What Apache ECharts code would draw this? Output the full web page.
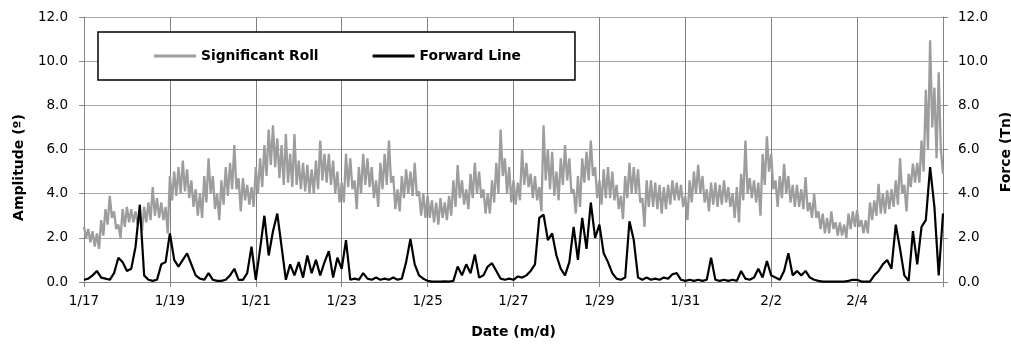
<!DOCTYPE html>
<html>
<head>
<meta charset="utf-8">
<script src="https://cdn.jsdelivr.net/npm/echarts@6/dist/echarts.min.js"></script>
<style>
html,body{margin:0;padding:0;background:#fff;}
#chart{width:1011px;height:344px;}
</style>
</head>
<body>
<div id="chart"></div>
<script>
// Sampling steps (days since 1/17 00:00)
const rollStepDays = 0.05;
const forwardStepDays = 0.1;
const xTickLabels = ['1/17','1/19','1/21','1/23','1/25','1/27','1/29','1/31','2/2','2/4'];
const seriesNames = ['Significant Roll', 'Forward Line'];

// Significant Roll amplitude (deg): alternating upper / lower edge of the noisy band
const rollValues = [
  2.5,2.0, 2.4,1.8, 2.3,1.6, 2.2,1.5, 2.8,2.1, 3.3,2.6, 3.9,2.9, 3.2,2.4, 2.6,2.0, 3.3,2.5,
  3.4,2.7, 3.3,2.7, 3.2,2.6, 3.0,2.3, 3.4,2.7, 3.6,2.8, 4.3,3.0, 3.8,2.9, 3.6,2.8, 3.4,2.2,
  4.8,3.7, 5.0,3.9, 5.2,4.0, 5.5,4.1, 5.1,3.8, 4.6,3.4, 4.2,3.0, 4.0,2.9, 4.8,3.6, 5.6,4.0,
  4.8,3.3, 4.0,2.8, 4.6,3.5, 5.2,3.9, 5.4,4.2, 6.2,4.2, 4.7,3.2, 4.7,3.7, 4.4,3.5, 4.3,3.4,
  5.2,4.0, 5.6,4.3, 6.2,4.8, 6.9,5.3, 7.1,5.2, 6.5,4.7, 6.2,4.4, 6.7,4.5, 5.8,4.3, 6.7,4.4,
  5.5,4.2, 5.4,4.1, 5.3,4.0, 5.1,4.0, 5.5,4.2, 6.4,4.6, 5.8,4.5, 5.8,4.4, 5.5,4.0, 5.0,3.6,
  4.5,3.6, 5.8,4.3, 5.6,4.2, 4.6,3.3, 5.2,4.0, 5.8,4.4, 5.6,4.3, 5.2,3.8, 4.6,3.4, 5.4,4.2,
  5.8,4.4, 6.4,4.5, 4.8,3.3, 4.2,3.2, 4.8,3.8, 5.1,4.0, 5.0,3.9, 5.4,3.9, 4.1,3.0, 4.0,2.9,
  3.9,2.9, 3.7,2.7, 3.6,2.6, 3.8,2.9, 3.6,2.8, 3.9,3.0, 4.6,3.4, 5.3,3.8, 4.6,3.5, 4.2,3.3,
  4.9,3.8, 5.4,4.0, 5.0,3.8, 4.2,3.1, 4.0,3.1, 4.6,3.6, 5.4,4.0, 6.9,4.8, 5.6,4.0, 5.2,3.6,
  4.6,3.5, 4.5,3.7, 6.0,4.4, 5.4,4.3, 4.9,3.8, 4.8,3.7, 4.3,3.2, 7.1,4.6, 6.0,4.2, 5.9,3.9,
  5.0,3.7, 5.6,4.4, 6.2,4.6, 5.6,4.0, 4.2,3.1, 4.8,3.4, 5.6,4.5, 5.9,4.6, 6.4,4.8, 5.2,3.8,
  4.6,3.5, 5.1,3.8, 5.2,3.8, 5.0,3.7, 4.4,3.3, 3.9,2.85, 4.8,3.8, 5.4,4.0, 5.2,4.0, 5.1,3.6,
  3.8,2.5, 4.6,3.4, 4.6,3.4, 4.5,3.3, 4.4,3.1, 4.3,3.3, 4.4,3.5, 4.6,3.7, 4.5,3.7, 4.4,3.4,
  3.9,2.8, 4.6,3.6, 5.0,4.0, 5.3,4.0, 4.8,3.6, 4.2,3.2, 4.5,3.5, 4.5,3.4, 4.4,3.5, 4.6,3.6,
  4.3,3.4, 4.0,2.9, 4.3,2.7, 4.9,3.7, 6.4,4.0, 4.7,3.8, 4.6,3.6, 4.5,3.0, 5.8,4.4, 6.6,5.0,
  5.8,4.2, 4.6,3.4, 4.8,3.8, 5.35,4.0, 4.8,3.6, 4.4,3.4, 4.4,3.4, 4.2,3.3, 4.75,3.2, 3.6,2.9,
  4.0,2.9, 3.2,2.4, 3.1,2.2, 2.9,2.2, 3.2,2.4, 2.7,2.1, 2.7,2.1, 2.6,2.0, 3.1,2.4, 3.2,2.5,
  3.25,2.5, 2.8,2.2, 2.8,2.2, 3.6,2.8, 3.7,3.0, 4.45,3.1, 4.0,3.1, 4.15,3.3, 4.2,3.4, 4.6,3.5,
  5.6,4.0, 4.4,3.2, 4.9,4.3, 5.36,4.5, 5.4,4.5, 6.4,5.0, 8.7,6.0, 10.95,7.0, 8.8,5.6, 9.5,6.0,
  4.9
];

// Forward Line force (Tn)
const forwardValues = [
  0.1, 0.15, 0.3, 0.5, 0.2, 0.15, 0.1, 0.4, 1.1, 0.9,
  0.5, 0.6, 1.6, 3.5, 0.3, 0.1, 0.05, 0.1, 0.8, 0.9,
  2.2, 1.0, 0.7, 1.0, 1.3, 0.8, 0.3, 0.15, 0.1, 0.4,
  0.1, 0.05, 0.05, 0.1, 0.3, 0.6, 0.1, 0.1, 0.4, 1.6,
  0.1, 1.5, 3.0, 1.2, 2.3, 3.1, 1.6, 0.1, 0.8, 0.3,
  0.9, 0.2, 1.2, 0.4, 1.0, 0.3, 0.9, 1.4, 0.2, 1.1,
  0.6, 1.9, 0.1, 0.15, 0.1, 0.4, 0.15, 0.1, 0.2, 0.1,
  0.15, 0.1, 0.2, 0.1, 0.15, 0.9, 1.95, 0.8, 0.3, 0.15,
  0.05, 0.02, 0.02, 0.02, 0.03, 0.02, 0.05, 0.7, 0.3, 0.8,
  0.4, 1.25, 0.2, 0.3, 0.7, 0.85, 0.5, 0.15, 0.1, 0.15,
  0.1, 0.25, 0.2, 0.3, 0.5, 0.8, 2.9, 3.05, 1.9, 2.2,
  1.2, 0.6, 0.3, 0.9, 2.5, 1.0, 2.9, 1.5, 3.6, 2.0,
  2.6, 1.3, 0.9, 0.4, 0.15, 0.1, 0.2, 2.75, 1.9, 0.2,
  0.1, 0.2, 0.1, 0.15, 0.1, 0.2, 0.15, 0.35, 0.4, 0.1,
  0.05, 0.1, 0.05, 0.1, 0.05, 0.1, 1.1, 0.1, 0.05, 0.1,
  0.05, 0.1, 0.05, 0.5, 0.15, 0.1, 0.2, 0.6, 0.2, 0.95,
  0.3, 0.2, 0.1, 0.5, 1.3, 0.3, 0.5, 0.3, 0.5, 0.2,
  0.1, 0.05, 0.02, 0.02, 0.02, 0.02, 0.02, 0.02, 0.05, 0.1,
  0.1, 0.02, 0.02, 0.02, 0.3, 0.5, 0.8, 1.0, 0.6, 2.6,
  1.5, 0.3, 0.05, 2.3, 0.8, 2.5, 2.8, 5.2, 3.4, 0.3,
  3.1
];

const FONT = 'DejaVu Sans';
const toPairs = (arr, step) => arr.map((v, i) => [i * step, v]);

const chart = echarts.init(document.getElementById('chart'), null, {renderer: 'canvas'});
const yAxisBase = {
  type: 'value', min: 0, max: 12, interval: 2,
  nameLocation: 'middle', nameRotate: 90,
  axisLine: {show: true, lineStyle: {color: '#868686', width: 1}},
  axisTick: {show: true, length: 5, lineStyle: {color: '#868686'}},
  axisLabel: {formatter: v => v.toFixed(1), fontFamily: FONT, fontSize: 13.5, color: '#000'},
  nameTextStyle: {fontFamily: FONT, fontWeight: 'bold', fontSize: 14, color: '#000'}
};
chart.setOption({
  animation: false,
  backgroundColor: '#fff',
  grid: {left: 84, right: 68, top: 17, bottom: 62, containLabel: false, outerBoundsMode: 'none'},
  legend: {
    data: seriesNames.map(n => ({name: n, icon: 'path://M0,0H42V3H0Z'})),
    left: 98, top: 32,
    padding: [17, 54, 17, 56],
    itemGap: 54, itemWidth: 42, itemHeight: 14,
    symbolKeepAspect: true,
    borderColor: '#000', borderWidth: 1.5,
    backgroundColor: '#fff',
    textStyle: {fontFamily: FONT, fontWeight: 'bold', fontSize: 13.8, color: '#000'}
  },
  xAxis: {
    type: 'value', min: 0, max: 20, interval: 2,
    name: 'Date (m/d)', nameLocation: 'middle', nameGap: 43,
    nameTextStyle: {fontFamily: FONT, fontWeight: 'bold', fontSize: 14, color: '#000'},
    axisLine: {show: true, onZero: false, lineStyle: {color: '#868686'}},
    axisTick: {show: true, length: 5, lineStyle: {color: '#868686'}},
    axisLabel: {
      margin: 12, fontFamily: FONT, fontSize: 13.5, color: '#000',
      formatter: v => { const k = Math.round(v / 2); return k < xTickLabels.length ? xTickLabels[k] : ''; }
    },
    splitLine: {show: true, lineStyle: {color: '#808080', width: 1}}
  },
  yAxis: [
    Object.assign({}, yAxisBase, {
      position: 'left', name: 'Amplitude (º)', nameGap: 58,
      nameTextStyle: Object.assign({}, yAxisBase.nameTextStyle, {padding: [0, 36, 0, 0]}),
      axisLabel: Object.assign({}, yAxisBase.axisLabel, {margin: 16}),
      splitLine: {show: true, lineStyle: {color: '#a6a6a6', width: 1}}
    }),
    Object.assign({}, yAxisBase, {
      position: 'right', name: 'Force (Tn)', nameGap: 54,
      nameTextStyle: Object.assign({}, yAxisBase.nameTextStyle, {padding: [0, 5, 0, 0]}),
      axisLabel: Object.assign({}, yAxisBase.axisLabel, {margin: 15}),
      splitLine: {show: false}
    })
  ],
  series: [
    {
      name: seriesNames[0], type: 'line', yAxisIndex: 0,
      data: toPairs(rollValues, rollStepDays), symbol: 'none', smooth: false, sampling: 'none',
      lineStyle: {color: '#9d9d9d', width: 2.3}, itemStyle: {color: '#9d9d9d'}
    },
    {
      name: seriesNames[1], type: 'line', yAxisIndex: 1,
      data: toPairs(forwardValues, forwardStepDays), symbol: 'none', smooth: false,
      lineStyle: {color: '#000', width: 2.2}, itemStyle: {color: '#000'}
    }
  ]
});
</script>
</body>
</html>
